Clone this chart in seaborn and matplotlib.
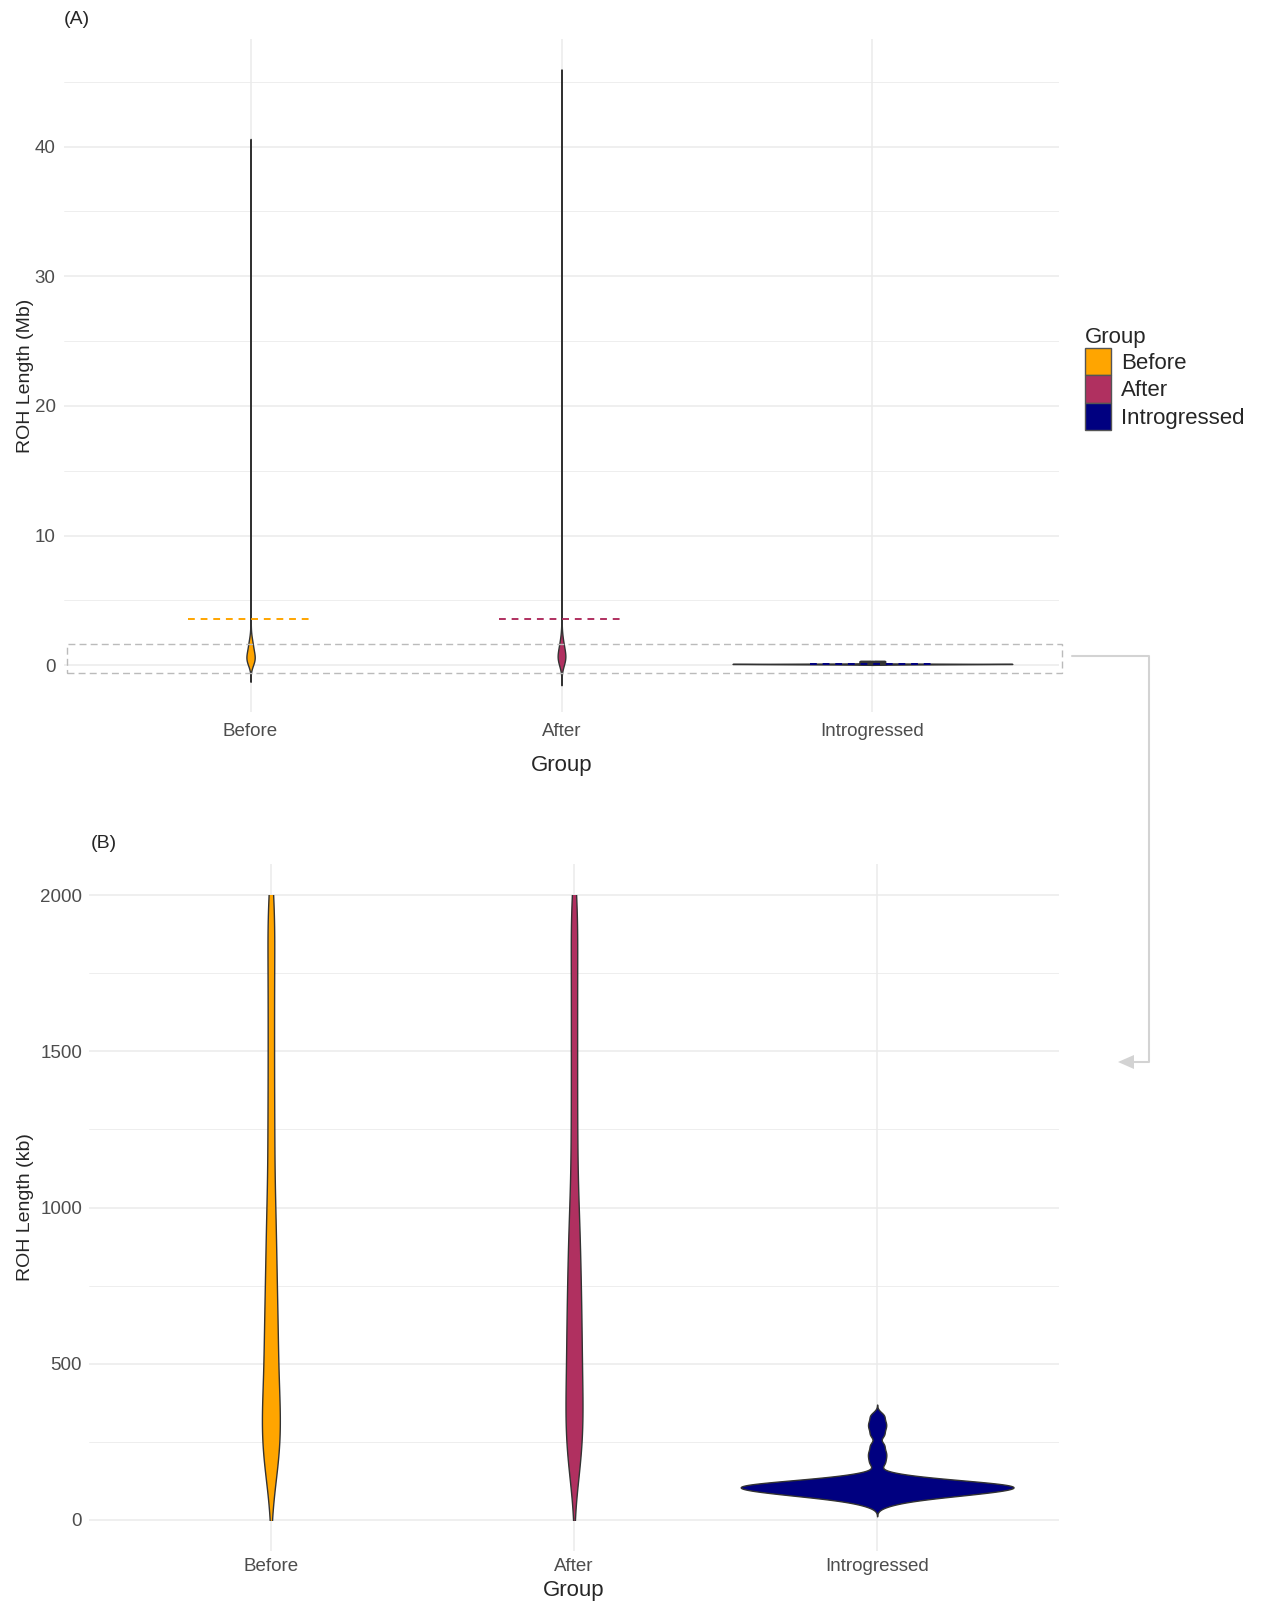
import numpy as np
import pandas as pd
import seaborn as sns
import matplotlib.pyplot as plt
from matplotlib.patches import Patch, Rectangle, Polygon
from matplotlib.ticker import MultipleLocator

# Data
groups = ["Before", "After", "Introgressed"]
group_colors = ["#FFA500", "#B03060", "#000080"]

# ROH lengths in kb, estimated from the violin outlines
before_kb = [120, 150, 175, 198, 218, 238, 256, 274, 292, 310, 328, 346, 366, 388, 412, 438,
             465, 492,
             520, 546, 572, 598, 626, 654, 684, 714, 746, 778, 812, 846, 882, 920, 958, 996,
             1040, 1095, 1150, 1205, 1260, 1315, 1375, 1435, 1495, 1555, 1615, 1675, 1735,
             1795, 1850, 1905, 1955, 1995,
             2300, 2700, 3400, 4600, 6200, 8900, 13500, 21000, 39200]
after_kb = [125, 158, 185, 210, 232, 254, 275, 296, 316, 336, 356, 377, 398, 420, 444, 468, 492,
            516, 540, 564, 588, 612, 637, 662, 688, 714, 741, 768, 796, 825, 855, 886, 918,
            950, 985,
            1025, 1075, 1130, 1185, 1240, 1300, 1360, 1420, 1480, 1540, 1600, 1660, 1720,
            1780, 1840, 1895, 1950, 1996,
            2200, 2600, 3100, 4100, 5800, 7700, 11800, 19500, 28000, 44300]
introgressed_kb = [46, 57, 62, 66, 70, 72, 75, 77, 79, 81, 82, 84, 86, 88, 89, 90, 91, 92,
                   94, 95, 97, 98, 99, 100, 101,
                   103, 104, 105, 106, 107, 108, 109, 111, 111, 112, 113, 114, 116, 117, 119,
                   120, 122, 124, 126, 128, 130, 133, 136, 141, 150,
                   180, 200, 218, 240, 272, 294, 312, 334]

# group means (Mb), dashed lines in panel A
group_means_mb = [3.6, 3.6, 0.14]

df = pd.DataFrame({
    "Group": ["Before"] * len(before_kb) + ["After"] * len(after_kb)
             + ["Introgressed"] * len(introgressed_kb),
    "kb": before_kb + after_kb + introgressed_kb,
})
df["mb"] = df["kb"] / 1000
df_zoom = df[df["kb"] <= 2000]

palette = dict(zip(groups, group_colors))

sns.set_theme(style="white")
plt.rcParams["font.family"] = ["Liberation Sans", "DejaVu Sans"]

W, H = 1261, 1602
fig = plt.figure(figsize=(W / 100, H / 100), dpi=100)


def px_axes(left, top, right, bottom):
    return fig.add_axes([left / W, 1 - bottom / H, (right - left) / W, (bottom - top) / H])


def style_axes(ax):
    for s in ax.spines.values():
        s.set_visible(False)
    ax.set_axisbelow(True)
    ax.grid(True, which="major", color="#EBEBEB", linewidth=1.1)
    ax.grid(True, which="minor", axis="y", color="#EBEBEB", linewidth=0.6)
    ax.tick_params(which="both", length=0, labelsize=13.5, labelcolor="#4D4D4D")


ax_a = px_axes(64, 39, 1059, 712)
ax_b = px_axes(89, 864, 1059, 1551)

violin_kws = dict(hue="Group", order=groups, hue_order=groups, palette=palette,
                  saturation=1, density_norm="area", common_norm=True, width=0.9, cut=3,
                  inner=None, linewidth=1.0, linecolor="#333333", legend=False)

# Panel A: full range in Mb
sns.violinplot(data=df, x="Group", y="mb", gridsize=1500, bw_method=0.08, ax=ax_a,
               **violin_kws)
xs = np.arange(len(groups))
ax_a.hlines(group_means_mb, xs - 0.2, xs + 0.2, colors=group_colors,
            linestyles=(0, (3.5, 3)), linewidth=1.4, zorder=5)
ax_a.add_patch(Rectangle((-0.59, -0.58), 3.2, 2.23, fill=False, edgecolor="#BBBBBB",
                         linestyle=(0, (5, 3)), linewidth=1.0, clip_on=False, zorder=6))
ax_a.set_xlim(-0.6, 2.6)
ax_a.set_ylim(-3.6, 48.3)
ax_a.yaxis.set_major_locator(MultipleLocator(10))
ax_a.yaxis.set_minor_locator(MultipleLocator(5))
style_axes(ax_a)
ax_a.tick_params(axis="x", pad=8)
ax_a.tick_params(axis="y", pad=6)
ax_a.set_xlabel("Group", fontsize=16)
ax_a.set_ylabel("ROH Length (Mb)", fontsize=14)
ax_a.xaxis.set_label_coords(0.5, -0.064)
ax_a.yaxis.set_label_coords(-0.030, 0.5)

# Panel B: zoom on 0-2000 kb
sns.violinplot(data=df_zoom, x="Group", y="kb", gridsize=600, bw_method=0.19, ax=ax_b,
               **violin_kws)
for coll in ax_b.collections:
    coll.set_clip_path(Rectangle((-1, 0), 5, 2000, transform=ax_b.transData))
ax_b.set_xlim(-0.6, 2.6)
ax_b.set_ylim(-100, 2100)
ax_b.yaxis.set_major_locator(MultipleLocator(500))
ax_b.yaxis.set_minor_locator(MultipleLocator(250))
style_axes(ax_b)
ax_b.tick_params(axis="x", pad=5)
ax_b.tick_params(axis="y", pad=5)
ax_b.set_xlabel("Group", fontsize=16)
ax_b.set_ylabel("ROH Length (kb)", fontsize=14)
ax_b.xaxis.set_label_coords(0.5, -0.042)
ax_b.yaxis.set_label_coords(-0.057, 0.5)

# panel tags
fig.text(64 / W, 1 - 20 / H, "(A)", fontsize=14, va="center")
fig.text(91 / W, 1 - 844 / H, "(B)", fontsize=14, va="center")

# legend
handles = [Patch(facecolor=c, edgecolor="#555555", linewidth=1.0) for c in group_colors]
fig.legend(handles, groups, title="Group", loc="upper left",
           bbox_to_anchor=(1085 / W, 1 - 327 / H), frameon=False, fontsize=16,
           title_fontsize=16, alignment="left", handlelength=1.17, handleheight=1.52,
           labelspacing=0.0, handletextpad=0.45, borderpad=0, borderaxespad=0)

# connector from the dashed box to panel B
over = fig.add_axes([0, 0, 1, 1], facecolor="none")
over.set_xlim(0, W)
over.set_ylim(H, 0)
over.axis("off")
over.plot([1072, 1149, 1149, 1132], [656, 656, 1062, 1062], color="#D3D3D3", linewidth=1.5)
over.add_patch(Polygon([[1118, 1062], [1134, 1055], [1134, 1069]], closed=True,
                       facecolor="#D3D3D3", edgecolor="none"))

fig.savefig("out.png", dpi=100)
